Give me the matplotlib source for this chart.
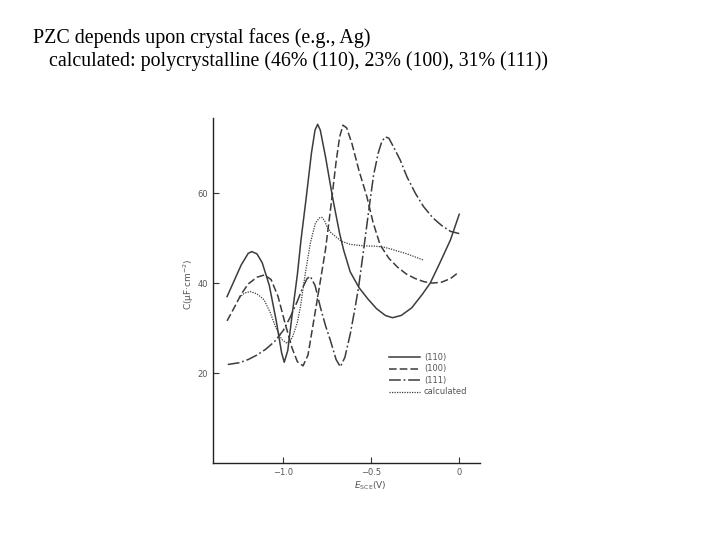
import matplotlib
matplotlib.use("Agg")
import matplotlib.pyplot as plt

plt.rcParams['lines.scale_dashes'] = False

title_line1 = "PZC depends upon crystal faces (e.g., Ag)"
title_line2 = "calculated: polycrystalline (46% (110), 23% (100), 31% (111))"

# (110)
v110 = [-1.32, -1.28, -1.24, -1.20, -1.18, -1.15, -1.12, -1.08, -1.04, -1.01, -0.995,
        -0.975, -0.95, -0.92, -0.90, -0.87, -0.84, -0.82, -0.805, -0.79, -0.76, -0.72,
        -0.68, -0.657, -0.62, -0.57, -0.52, -0.47, -0.42, -0.38, -0.33, -0.27, -0.21,
        -0.165, -0.11, -0.05, 0.0]
c110 = [37.0, 40.5, 44.0, 46.6, 47.0, 46.5, 44.5, 39.5, 31.5, 24.5, 22.4,
        25.0, 33.0, 42.0, 49.5, 59.0, 69.0, 74.0, 75.3, 74.0, 68.0, 59.0,
        51.0, 47.3, 42.5, 39.0, 36.5, 34.3, 32.8, 32.3, 32.8, 34.5, 37.5,
        40.0, 44.5, 49.6, 55.3]

# (100)
v100 = [-1.32, -1.28, -1.24, -1.20, -1.15, -1.108, -1.07, -1.03, -0.99, -0.95, -0.92,
        -0.888, -0.86, -0.83, -0.80, -0.761, -0.73, -0.70, -0.68, -0.661, -0.64, -0.61,
        -0.57, -0.525, -0.49, -0.45, -0.40, -0.35, -0.30, -0.25, -0.20, -0.15, -0.10,
        -0.05, -0.01]
c100 = [31.6, 34.5, 37.5, 39.8, 41.3, 41.8, 40.8, 37.0, 31.0, 25.5, 22.5,
        21.6, 24.0, 31.0, 38.0, 47.3, 57.0, 67.0, 72.5, 75.1, 74.5, 71.0,
        65.0, 59.2, 53.5, 48.5, 45.5, 43.5, 42.0, 41.0, 40.3, 40.0, 40.2,
        41.0, 42.2]

# (111)
v111 = [-1.316, -1.25, -1.20, -1.15, -1.10, -1.05, -1.00, -0.96, -0.92, -0.89, -0.865,
        -0.847, -0.82, -0.79, -0.76, -0.733, -0.70, -0.676, -0.65, -0.619, -0.59, -0.572,
        -0.544, -0.515, -0.487, -0.46, -0.44, -0.42, -0.40, -0.37, -0.335, -0.297, -0.25,
        -0.203, -0.15, -0.10, -0.05, 0.0]
c111 = [21.9, 22.3, 23.0, 24.0, 25.3, 27.0, 29.5, 32.5, 36.0, 39.0, 41.0,
        41.5, 39.5, 34.7, 30.5, 27.3, 23.0, 21.4, 23.5, 28.8, 35.0, 39.2,
        47.3, 56.0, 64.0, 69.0, 71.5, 72.5, 72.2, 70.0, 67.3, 63.6, 60.0,
        57.0, 54.5, 52.8, 51.5, 51.0]

# calculated
vcal = [-1.25, -1.22, -1.188, -1.15, -1.11, -1.075, -1.045, -1.01, -0.979, -0.95, -0.922,
        -0.903, -0.875, -0.847, -0.818, -0.795, -0.78, -0.765, -0.752, -0.73, -0.714, -0.67,
        -0.619, -0.55, -0.48, -0.43, -0.392, -0.35, -0.297, -0.25, -0.203]
ccal = [36.8, 37.8, 38.1, 37.6, 36.3, 33.5, 30.3, 27.5, 26.6, 27.8, 31.0,
        34.7, 42.2, 48.8, 53.3, 54.5, 54.6, 53.8, 52.5, 51.2, 50.7, 49.3,
        48.6, 48.3, 48.2, 48.0, 47.6, 47.1, 46.5, 45.8, 45.1]

labels = ["(110)", "(100)", "(111)", "calculated"]
xticks = [-1.0, -0.5, 0.0]
xticklabels = ["\u22121.0", "\u22120.5", "0"]
yticks = [20, 40, 60]

fig = plt.figure(figsize=(7.2, 5.4), dpi=100)
ax = fig.add_axes([213/720, 1 - 463/540, 267/720, 345/540])

lc = '#3c3c3c'
lw = 1.1
ax.plot(v110, c110, color=lc, lw=lw, linestyle='-', label=labels[0])
ax.plot(v100, c100, color=lc, lw=lw, linestyle=(0, (5.5, 2.2)), label=labels[1])
ax.plot(v111, c111, color=lc, lw=lw, linestyle=(0, (8.5, 2.0, 1.3, 2.0)), label=labels[2])
ax.plot(vcal, ccal, color=lc, lw=0.9, linestyle=(0, (0.9, 0.9)), label=labels[3])

ax.set_xlim(-1.40, 0.118)
ax.set_ylim(0, 76.7)
ax.set_xticks(xticks)
ax.set_xticklabels(xticklabels)
ax.set_yticks(yticks)
ax.tick_params(direction='in', length=4.5, width=0.8, labelsize=6, colors='#333333',
               labelcolor='#555555')
for s in ['top', 'right']:
    ax.spines[s].set_visible(False)
for s in ['left', 'bottom']:
    ax.spines[s].set_linewidth(1.0)
    ax.spines[s].set_color('#222222')

ax.set_ylabel("C(\u03bcF\u00b7cm$^{-2}$)", fontsize=6.5, color='#555555')
ax.yaxis.set_label_coords((189 - 213) / 267, (463 - 284) / 345)
ax.set_xlabel("$E_{\\mathrm{SCE}}$(V)", fontsize=6.5, color='#555555')
ax.xaxis.set_label_coords((370 - 213) / 267, -(486 - 463) / 345)
ax.xaxis.label.set_verticalalignment('center')
ax.yaxis.label.set_verticalalignment('center')

leg = ax.legend(loc='upper left', bbox_to_anchor=((389 - 213) / 267, (463 - 353) / 345),
                frameon=False, fontsize=6, handlelength=3.7, labelspacing=0.3,
                handletextpad=0.5, borderaxespad=0, borderpad=0)
for t in leg.get_texts():
    t.set_color('#555555')

fig.text(33/720, 1 - 43/540, title_line1, family='Liberation Serif', fontsize=14.4,
         va='baseline', ha='left')
fig.text(49/720, 1 - 66/540, title_line2, family='Liberation Serif', fontsize=14.3,
         va='baseline', ha='left')

fig.savefig("out.png", dpi=100)
